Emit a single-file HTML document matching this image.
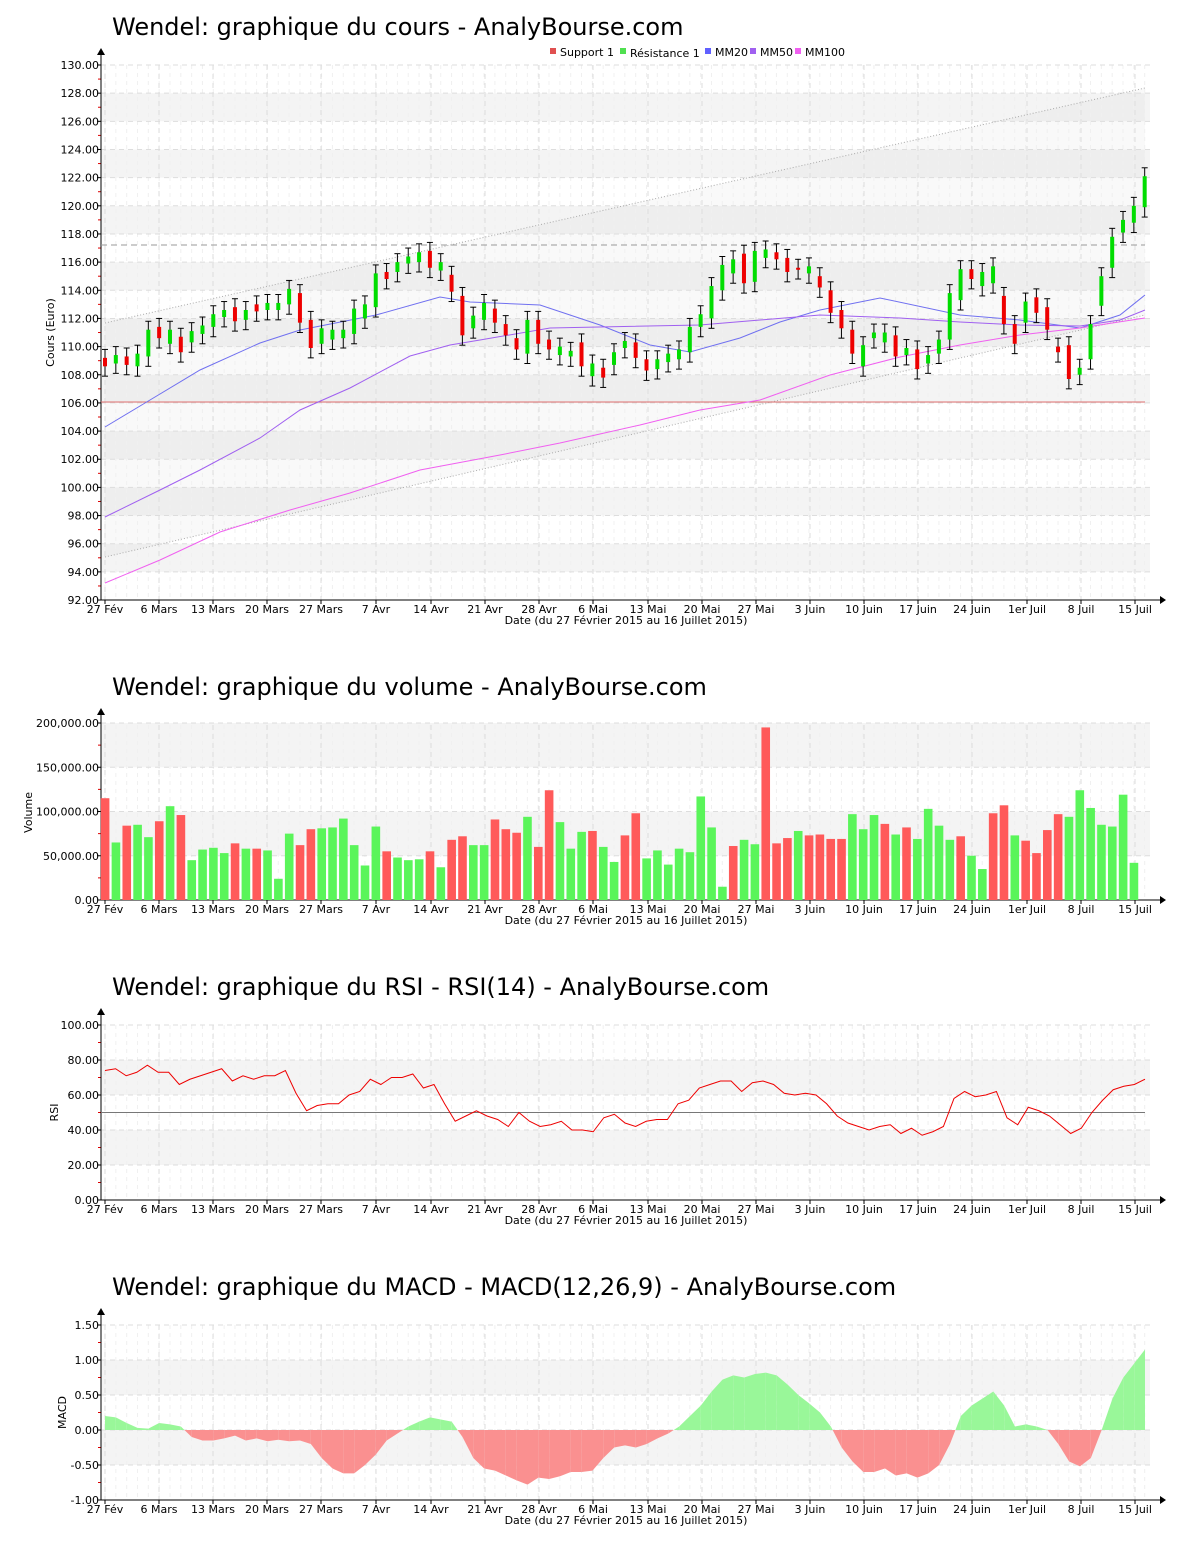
<!DOCTYPE html>
<html><head><meta charset="utf-8"><style>
body{margin:0;background:#fff;}
svg{display:block;font-family:"DejaVu Sans","Liberation Sans",sans-serif;}
</style></head><body>
<svg id="s" width="1200" height="1550" xmlns="http://www.w3.org/2000/svg"></svg>
<script>
const S=document.getElementById('s');let h='';
const X0=105,DX=10.83,XL=101,XR=1150;
const dates=[["27 Fév",105],["6 Mars",159],["13 Mars",213],["20 Mars",267],["27 Mars",321],["7 Avr",376],["14 Avr",431],["21 Avr",485],["28 Avr",539],["6 Mai",593],["13 Mai",648],["20 Mai",702],["27 Mai",756],["3 Juin",810],["10 Juin",864],["17 Juin",918],["24 Juin",972],["1er Juil",1027],["8 Juil",1081],["15 Juil",1135]];
function panel(title,ty,top,bot,ticks,fmt,ylab,bandsFn){
 h+=`<text x="112" y="${ty}" font-size="24" fill="#000">${title}</text>`;
 // bands
 bandsFn();
 // grid verticals
 for(let i=0;i<97;i++){let x=X0+i*DX;h+=`<line x1="${x}" y1="${top}" x2="${x}" y2="${bot}" stroke="#f0f0f0" stroke-dasharray="4,4"/>`;}
 dates.forEach(d=>{h+=`<line x1="${d[1]}" y1="${top}" x2="${d[1]}" y2="${bot}" stroke="#ddd" stroke-dasharray="5,4"/>`;
  h+=`<line x1="${d[1]}" y1="${bot}" x2="${d[1]}" y2="${bot+4}" stroke="#000"/>`;
  h+=`<text x="${d[1]}" y="${bot+13}" font-size="11" text-anchor="middle">${d[0]}</text>`;});
 ticks.forEach(t=>{h+=`<line x1="${XL}" y1="${t[1]}" x2="${XR}" y2="${t[1]}" stroke="#ddd" stroke-dasharray="5,4"/>`;
  h+=`<line x1="${XL-4}" y1="${t[1]}" x2="${XL}" y2="${t[1]}" stroke="#000"/>`;
  h+=`<text x="${XL-2}" y="${t[1]+4}" font-size="11" text-anchor="end">${fmt(t[0])}</text>`;});
 for(let k=0;k<ticks.length-1;k++){let y=(ticks[k][1]+ticks[k+1][1])/2;h+=`<line x1="${XL-3}" y1="${y}" x2="${XL}" y2="${y}" stroke="#d00"/>`;}
 h+=`<line x1="${XL}" y1="${top-12}" x2="${XL}" y2="${bot}" stroke="#000"/><line x1="${XL}" y1="${bot}" x2="${XR+10}" y2="${bot}" stroke="#000"/>`;
 h+=`<polygon points="${XL-4},${top-10} ${XL+4},${top-10} ${XL},${top-17}" fill="#000"/><polygon points="${XR+10},${bot-4} ${XR+10},${bot+4} ${XR+16},${bot}" fill="#000"/>`;
 h+=`<text x="626" y="${bot+24}" font-size="11" text-anchor="middle">Date (du 27 Février 2015 au 16 Juillet 2015)</text>`;
 h+=`<text transform="translate(${ylab[0]},${(top+bot)/2}) rotate(-90)" font-size="11" text-anchor="middle">${ylab[1]}</text>`;
}
// PRICE
const py=v=>65+(130-v)*14.08;
let pt=[];for(let v=130;v>=92;v-=2)pt.push([v,py(v)]);
panel("Wendel: graphique du cours - AnalyBourse.com",35,65,600,pt,v=>v.toFixed(2),[54,"Cours (Euro)"],()=>{
 for(let v=128;v>92;v-=4)h+=`<rect x="${XL}" y="${py(v)}" width="${XR-XL}" height="${py(v-2)-py(v)}" fill="#f4f4f4"/>`;
 h+=`<polygon points="105,323 1145,88 1145,315 105,557" fill="#000" opacity="0.025"/>`;
});
// legend
h+=`<rect x="550" y="48" width="6" height="6" fill="#e05050"/><text x="560" y="56" font-size="11">Support 1</text>
<rect x="620" y="48" width="6" height="6" fill="#50e050"/><text x="630" y="57" font-size="11">Résistance 1</text>
<rect x="705" y="48" width="6" height="6" fill="#6060ff"/><text x="715" y="56" font-size="11">MM20</text>
<rect x="750" y="48" width="6" height="6" fill="#a060f0"/><text x="760" y="56" font-size="11">MM50</text>
<rect x="795" y="48" width="6" height="6" fill="#f060f0"/><text x="805" y="56" font-size="11">MM100</text>`;
h+=`<line x1="105" y1="323" x2="1145" y2="88" stroke="#aaa" stroke-dasharray="1,2"/><line x1="105" y1="557" x2="1145" y2="315" stroke="#aaa" stroke-dasharray="1,2"/>`;
h+=`<line x1="101" y1="245" x2="1145" y2="245" stroke="#999" stroke-dasharray="6,4"/><line x1="101" y1="402" x2="1145" y2="402" stroke="#e07070"/>`;
const pl=(pts,c)=>h+=`<polyline points="${pts}" fill="none" stroke="${c}"/>`;
pl("105,427 150,400 200,370 260,343 300,330 376,315 440,297 470,302 540,305 600,325 650,345 690,352 740,338 780,322 820,310 880,298 960,315 1020,320 1080,328 1120,315 1145,295","#7070f0");
pl("105,517 160,490 200,470 260,438 300,410 350,388 410,356 450,345 480,340 550,328 700,325 820,315 900,318 960,322 1020,325 1080,326 1120,320 1145,310","#a060f0");
pl("105,583 160,560 220,532 290,510 350,493 420,470 500,455 560,443 640,425 700,410 760,400 830,375 900,357 960,345 1020,335 1080,328 1145,318","#f060f0");
const C=[[109.2,108.6],[108.8,109.4],[109.3,108.7],[108.6,109.5],[109.3,111.2],[111.4,110.6],[110.2,111.2],[110.7,109.6],[110.3,111.1],[110.9,111.5],[111.4,112.3],[112.1,112.6],[112.8,111.8],[111.9,112.6],[113.0,112.5],[112.6,113.1],[112.6,113.1],[113.0,114.1],[113.8,111.7],[111.9,109.9],[110.2,111.3],[110.5,111.2],[110.6,111.2],[110.9,112.7],[112.0,113.0],[112.8,115.2],[115.3,114.8],[115.3,116.0],[115.9,116.4],[116.0,116.7],[116.8,115.6],[115.4,116.0],[115.1,113.9],[113.6,110.8],[111.3,112.2],[111.9,113.1],[112.7,111.7],[111.6,110.8],[110.6,109.8],[109.5,111.9],[111.9,110.2],[110.5,109.8],[109.4,110.0],[109.3,109.7],[110.3,108.6],[107.9,108.8],[108.5,107.8],[108.7,109.6],[109.9,110.4],[110.3,109.2],[109.1,108.3],[108.4,109.1],[108.9,109.5],[109.1,109.8],[109.6,111.4],[111.4,112.3],[112.0,114.3],[114.0,115.8],[115.2,116.2],[116.6,114.5],[114.6,116.8],[116.3,116.9],[116.7,116.2],[116.3,115.3],[115.6,115.5],[115.2,115.7],[115.0,114.2],[114.0,112.4],[112.6,111.3],[111.2,109.5],[108.6,110.1],[110.6,111.0],[110.3,111.0],[110.8,109.3],[109.4,109.9],[109.8,108.4],[108.8,109.4],[109.5,110.5],[110.5,113.8],[113.3,115.5],[115.5,114.8],[114.3,115.3],[114.5,115.7],[113.6,111.6],[111.6,110.2],[111.7,113.2],[113.5,112.4],[112.8,111.2],[110.0,109.6],[110.1,107.7],[108.0,108.5],[109.1,111.6],[112.9,115.0],[115.6,117.8],[118.1,119.0],[118.8,120.0],[119.9,122.1]];
C.forEach((c,i)=>{let x=X0+i*DX,o=c[0],cl=c[1],hi=Math.max(o,cl)+0.6,lo=Math.min(o,cl)-0.7;
 h+=`<line x1="${x}" y1="${py(hi)}" x2="${x}" y2="${py(lo)}" stroke="#000"/><line x1="${x-3}" y1="${py(hi)}" x2="${x+3}" y2="${py(hi)}" stroke="#000"/><line x1="${x-3}" y1="${py(lo)}" x2="${x+3}" y2="${py(lo)}" stroke="#000"/>`;
 let t=py(Math.max(o,cl)),b=py(Math.min(o,cl));h+=`<rect x="${x-2}" y="${t}" width="4" height="${Math.max(b-t,2)}" fill="${cl>=o?'#00dd00':'#ee0000'}"/>`;});
// VOLUME
const vy=v=>900-v*177/200;
panel("Wendel: graphique du volume - AnalyBourse.com",695,725,900,[[200,vy(200)],[150,vy(150)],[100,vy(100)],[50,vy(50)],[0,900]],v=>(v*1000).toLocaleString('en-US')+".00",[32,"Volume"],()=>{
 h+=`<rect x="${XL}" y="${vy(200)}" width="${XR-XL}" height="${vy(150)-vy(200)}" fill="#f4f4f4"/><rect x="${XL}" y="${vy(100)}" width="${XR-XL}" height="${vy(50)-vy(100)}" fill="#f4f4f4"/>`;});
const V="115r,65g,84r,85g,71g,89r,106g,96r,45g,57g,59g,53g,64r,58g,58r,56g,24g,75g,62r,80r,81g,82g,92g,62g,39g,83g,55r,48g,45g,46g,55r,37g,68r,72r,62g,62g,91r,80r,76r,94g,60r,124r,88g,58g,77g,78r,60g,43g,73r,98r,47g,56g,40g,58g,54g,117g,82g,15g,61r,68g,63g,195r,64r,70r,78g,73r,74r,69r,69r,97g,80g,96g,86r,74g,82r,69g,103g,84g,68g,72r,50g,35g,98r,107r,73g,67r,53r,79r,97r,94g,124g,104g,85g,83g,119g,42g".split(",");
V.forEach((s,i)=>{let v=parseFloat(s),x=X0+i*DX;h+=`<rect x="${x-4.2}" y="${vy(v)}" width="8.6" height="${900-vy(v)}" fill="${s.endsWith('r')?'#ff5a5a':'#5af55a'}"/>`;});
// RSI
const ry=v=>1200-v*1.75;
panel("Wendel: graphique du RSI - RSI(14) - AnalyBourse.com",995,1025,1200,[100,80,60,40,20,0].map(v=>[v,ry(v)]),v=>v.toFixed(2),[58,"RSI"],()=>{
 h+=`<rect x="${XL}" y="${ry(80)}" width="${XR-XL}" height="35" fill="#f4f4f4"/><rect x="${XL}" y="${ry(40)}" width="${XR-XL}" height="35" fill="#f4f4f4"/>`;});
h+=`<line x1="101" y1="${ry(50)}" x2="1145" y2="${ry(50)}" stroke="#777"/>`;
const R=[74,75,71,73,77,73,73,66,69,71,73,75,68,71,69,71,71,74,61,51,54,55,55,60,62,69,66,70,70,72,64,66,55,45,48,51,48,46,42,50,45,42,43,45,40,40,39,47,49,44,42,45,46,46,55,57,64,66,68,68,62,67,68,66,61,60,61,60,55,48,44,42,40,42,43,38,41,37,39,42,58,62,59,60,62,47,43,53,51,48,43,38,41,50,57,63,65,66,69];
pl(R.map((v,i)=>(X0+i*(1040/(R.length-1))).toFixed(1)+","+ry(v)).join(" "),"#ee0000");
// MACD
const my=v=>1430-v*70;
panel("Wendel: graphique du MACD - MACD(12,26,9) - AnalyBourse.com",1295,1325,1500,[1.5,1,0.5,0,-0.5,-1].map(v=>[v,my(v)]),v=>v.toFixed(2),[66,"MACD"],()=>{
 h+=`<rect x="${XL}" y="${my(1)}" width="${XR-XL}" height="35" fill="#f4f4f4"/><rect x="${XL}" y="${my(0)}" width="${XR-XL}" height="35" fill="#f4f4f4"/>`;});
const M=[0.2,0.18,0.1,0.03,0.02,0.1,0.08,0.05,-0.1,-0.15,-0.15,-0.12,-0.08,-0.15,-0.12,-0.16,-0.14,-0.16,-0.15,-0.2,-0.4,-0.55,-0.62,-0.62,-0.5,-0.35,-0.15,-0.05,0.05,0.12,0.18,0.15,0.12,-0.1,-0.4,-0.55,-0.58,-0.65,-0.72,-0.78,-0.68,-0.7,-0.66,-0.6,-0.6,-0.58,-0.4,-0.25,-0.22,-0.25,-0.2,-0.12,-0.05,0.05,0.2,0.35,0.55,0.72,0.78,0.75,0.8,0.82,0.78,0.65,0.5,0.38,0.25,0.05,-0.25,-0.45,-0.6,-0.6,-0.55,-0.65,-0.62,-0.68,-0.62,-0.5,-0.2,0.2,0.35,0.45,0.55,0.35,0.05,0.08,0.05,0,-0.2,-0.45,-0.52,-0.4,0,0.45,0.75,0.95,1.15];
const mx=i=>X0+i*(1040/(M.length-1));
for(let i=0;i<M.length-1;i++){let a=M[i],b=M[i+1],x1=mx(i),x2=mx(i+1);
 const seg=(xa,va,xb,vb)=>{let c=(va+vb)>=0?'#99f799':'#fa9090';h+=`<polygon points="${xa},${my(0)} ${xa},${my(va)} ${xb},${my(vb)} ${xb},${my(0)}" fill="${c}"/>`;};
 if(a*b<0){let t=a/(a-b),xm=x1+t*(x2-x1);seg(x1,a,xm,0);seg(xm,0,x2,b);}else seg(x1,a,x2,b);}
S.innerHTML=h;
</script>
</body></html>
